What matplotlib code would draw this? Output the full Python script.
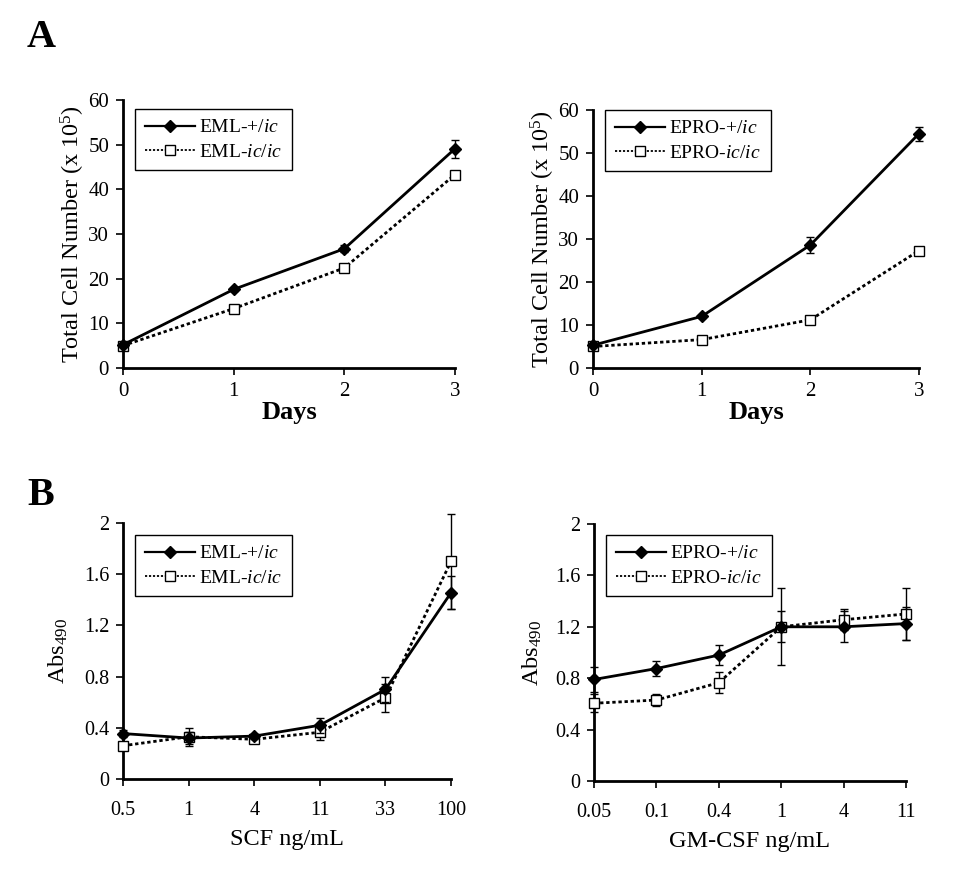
import matplotlib
matplotlib.use("Agg")
import matplotlib.pyplot as plt
from matplotlib.lines import Line2D

plt.rcParams['font.family'] = ['Liberation Serif', 'DejaVu Serif']
plt.rcParams['mathtext.fontset'] = 'custom'
plt.rcParams['mathtext.rm'] = 'Liberation Serif'
plt.rcParams['mathtext.it'] = 'Liberation Serif:italic'

# panel A: growth curves
days = [0, 1, 2, 3]
eml_het = [5.2, 17.6, 26.7, 49.1]
eml_het_err = [0.3, 0.4, 0.8, 2.0]
eml_ic = [5.0, 13.3, 22.4, 43.3]
eml_ic_err = [0.3, 0.3, 0.4, 0.6]
epro_het = [5.3, 12.0, 28.6, 54.5]
epro_het_err = [0.3, 0.4, 1.8, 1.6]
epro_ic = [5.0, 6.6, 11.2, 27.3]
epro_ic_err = [0.3, 0.3, 0.4, 0.5]

# panel B: dose response
scf_labels = ['0.5', '1', '4', '11', '33', '100']
scf_het = [0.355, 0.32, 0.335, 0.42, 0.70, 1.455]
scf_het_err = [0.03, 0.05, 0.02, 0.06, 0.10, 0.13]
scf_ic = [0.26, 0.33, 0.31, 0.365, 0.635, 1.70]
scf_ic_err = [0.02, 0.07, 0.03, 0.06, 0.11, 0.37]

gm_labels = ['0.05', '0.1', '0.4', '1', '4', '11']
gm_het = [0.79, 0.875, 0.98, 1.20, 1.20, 1.225]
gm_het_err = [0.10, 0.06, 0.08, 0.12, 0.12, 0.13]
gm_ic = [0.605, 0.63, 0.765, 1.20, 1.255, 1.30]
gm_ic_err = [0.07, 0.05, 0.08, 0.30, 0.08, 0.20]

fig = plt.figure(figsize=(9.59, 8.88), dpi=100)
W, H = 959.0, 888.0

def px_axes(l, t, r, b):
    return fig.add_axes([l / W, 1 - b / H, (r - l) / W, (b - t) / H])

def style(ax, tsize):
    for s in ['top', 'right']:
        ax.spines[s].set_visible(False)
    for s in ['left', 'bottom']:
        ax.spines[s].set_linewidth(2.0)
    ax.tick_params(axis='both', direction='out', length=5, width=1.2,
                   labelsize=tsize, pad=5)

dot = (0, (1.2, 1.0))

def draw(ax, x, a, ae, b, be):
    ax.errorbar(x, b, yerr=be, color='black', ls=dot, lw=2.0,
                marker='s', ms=7.5, mfc='white', mec='black', mew=1.0,
                capsize=3, elinewidth=1.0, ecolor='black', zorder=3)
    ax.errorbar(x, a, yerr=ae, color='black', ls='-', lw=2.0,
                marker='D', ms=6, mfc='black', mec='black',
                capsize=3, elinewidth=1.0, ecolor='black', zorder=4)

def legend(ax, la, lb, x, y):
    h = [Line2D([], [], color='black', lw=1.6, marker='D', ms=6, mfc='black'),
         Line2D([], [], color='black', lw=1.3, ls=(0, (1.2, 1.0)), marker='s',
                ms=7.5, mfc='white', mec='black', mew=1.0)]
    leg = ax.legend(h, [la, lb], loc='upper left', bbox_to_anchor=(x / W, 1 - y / H),
                    bbox_transform=fig.transFigure, fancybox=False, framealpha=1,
                    edgecolor='black', fontsize=14, handlelength=2.6,
                    borderpad=0.5, labelspacing=0.35, handletextpad=0.2,
                    borderaxespad=0)
    leg.get_frame().set_linewidth(1.0)

# A left
ax1 = px_axes(123, 100, 455, 368)
draw(ax1, days, eml_het, eml_het_err, eml_ic, eml_ic_err)
ax1.set_xlim(0, 3)
ax1.set_ylim(0, 60)
ax1.set_xticks(days)
ax1.set_yticks(range(0, 61, 10))
style(ax1, 15)
ax1.set_ylabel(r'Total Cell Number (x 10$^5$)', fontsize=17.5, labelpad=1)
ax1.set_xlabel('Days', fontsize=19, fontweight='bold', labelpad=0)
legend(ax1, r'EML-+/$\mathit{ic}$', r'EML-$\mathit{ic/ic}$', 135, 109)

# A right
ax2 = px_axes(593, 110, 919, 368)
draw(ax2, days, epro_het, epro_het_err, epro_ic, epro_ic_err)
ax2.set_xlim(0, 3)
ax2.set_ylim(0, 60)
ax2.set_xticks(days)
ax2.set_yticks(range(0, 61, 10))
style(ax2, 15)
ax2.set_ylabel(r'Total Cell Number (x 10$^5$)', fontsize=17.5, labelpad=1)
ax2.set_xlabel('Days', fontsize=19, fontweight='bold', labelpad=0)
legend(ax2, r'EPRO-+/$\mathit{ic}$', r'EPRO-$\mathit{ic/ic}$', 605, 110)

ticks_b = [0, 0.4, 0.8, 1.2, 1.6, 2]
ticklabels_b = ['0', '0.4', '0.8', '1.2', '1.6', '2']

# B left
ax3 = px_axes(123, 523, 451, 779)
xs = list(range(len(scf_labels)))
draw(ax3, xs, scf_het, scf_het_err, scf_ic, scf_ic_err)
ax3.set_xlim(0, 5)
ax3.set_ylim(0, 2)
ax3.set_xticks(xs)
ax3.set_xticklabels(scf_labels)
ax3.set_yticks(ticks_b)
ax3.set_yticklabels(ticklabels_b)
style(ax3, 14.5)
ax3.tick_params(axis='x', pad=11)
ax3.set_ylabel(r'Abs$_{490}$', fontsize=17.5, labelpad=10)
ax3.set_xlabel('SCF ng/mL', fontsize=17.5, labelpad=6)
legend(ax3, r'EML-+/$\mathit{ic}$', r'EML-$\mathit{ic/ic}$', 135, 535)

# B right
ax4 = px_axes(594, 524, 906, 781)
xs = list(range(len(gm_labels)))
draw(ax4, xs, gm_het, gm_het_err, gm_ic, gm_ic_err)
ax4.set_xlim(0, 5)
ax4.set_ylim(0, 2)
ax4.set_xticks(xs)
ax4.set_xticklabels(gm_labels)
ax4.set_yticks(ticks_b)
ax4.set_yticklabels(ticklabels_b)
style(ax4, 14.5)
ax4.tick_params(axis='x', pad=11)
ax4.set_ylabel(r'Abs$_{490}$', fontsize=17.5, labelpad=8)
ax4.set_xlabel('GM-CSF ng/mL', fontsize=17.5, labelpad=6)
legend(ax4, r'EPRO-+/$\mathit{ic}$', r'EPRO-$\mathit{ic/ic}$', 606, 535)

for ax in [ax1, ax2, ax3, ax4]:
    for line in ax.lines:
        line.set_clip_on(False)
    for c in ax.collections:
        c.set_clip_on(False)

fig.text(27 / W, 1 - 47 / H, 'A', fontsize=29, fontweight='bold')
fig.text(27 / W, 1 - 505 / H, 'B', fontsize=29, fontweight='bold')

fig.savefig('out.png', dpi=100)
